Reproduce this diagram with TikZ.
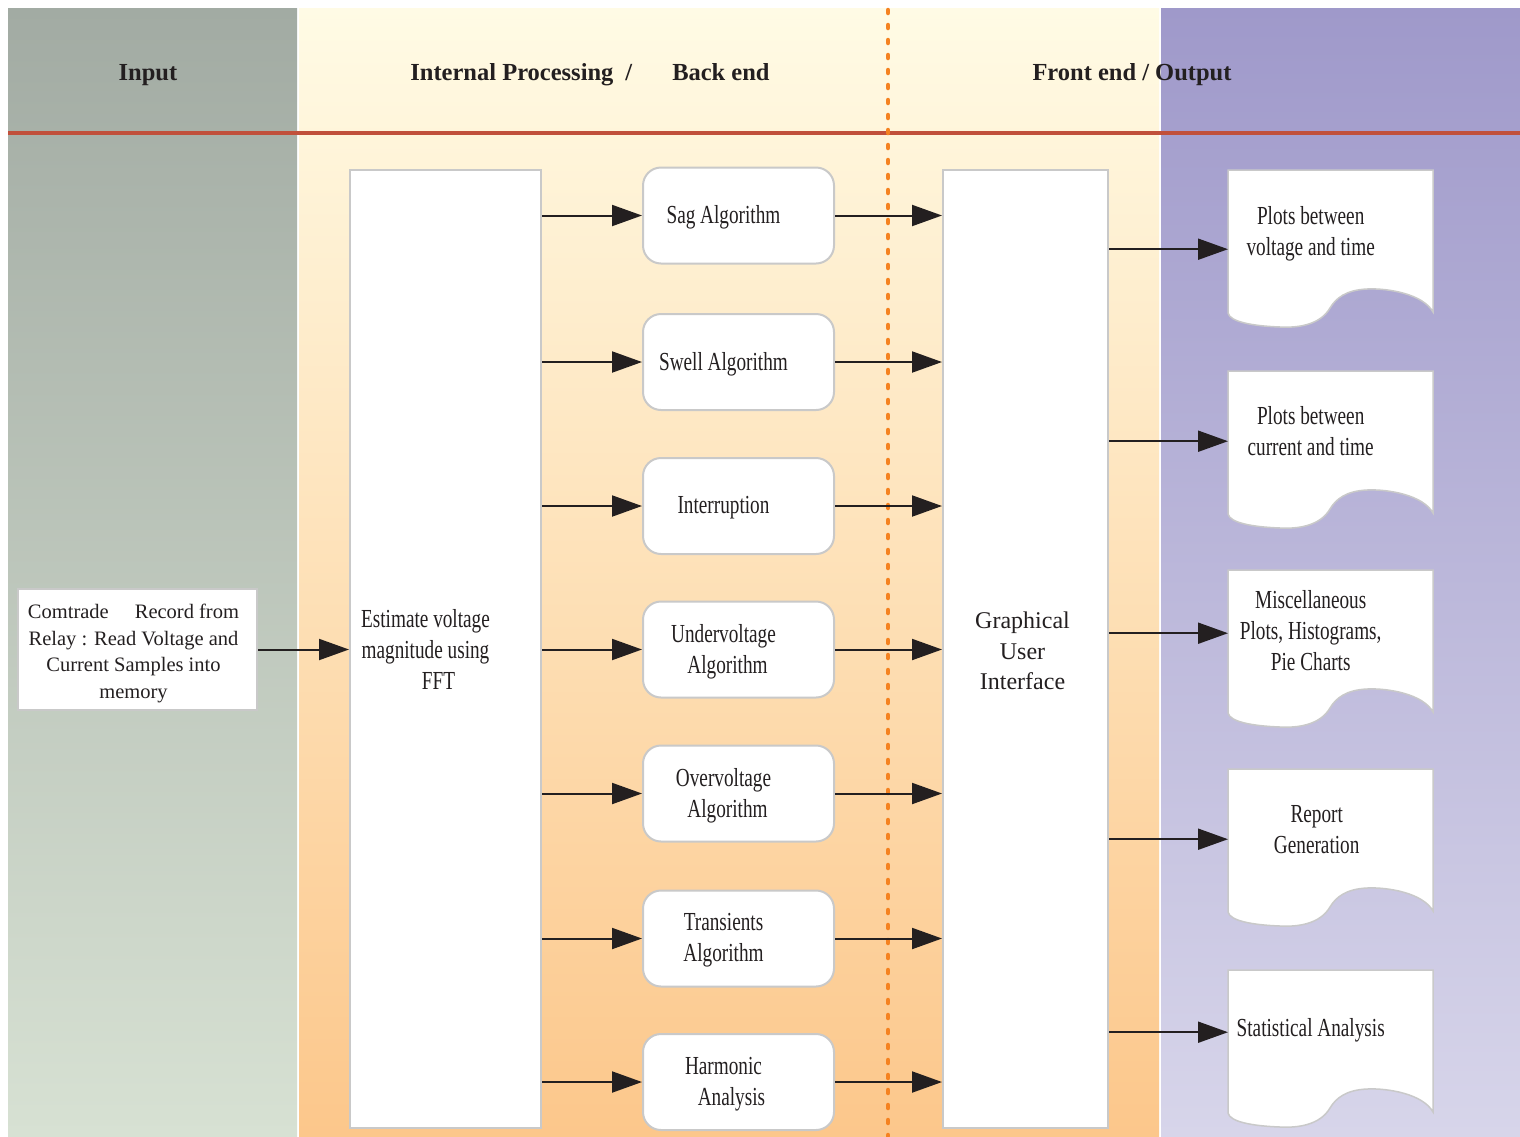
\documentclass[tikz,border=0pt]{standalone}
\usepackage{fontspec}
\setmainfont{Liberation Serif}
\newfontfamily\narrowfont[FakeStretch=0.74]{Liberation Serif}
\usetikzlibrary{arrows.meta}
\definecolor{InputTop}{HTML}{A2ABA3}
\definecolor{InputBot}{HTML}{D7E1D3}
\definecolor{ProcTop}{HTML}{FFFBE5}
\definecolor{ProcBot}{HTML}{FCC78B}
\definecolor{OutTop}{HTML}{9F99CA}
\definecolor{OutBot}{HTML}{D7D5EA}
\definecolor{RuleRed}{HTML}{C1503B}
\definecolor{DotOrange}{HTML}{F58220}
\definecolor{BoxGray}{HTML}{C9C9C9}
\definecolor{InkBlack}{HTML}{231F20}
\pgfdeclarelayer{paper}
\pgfsetlayers{paper,main}
\newcommand{\PageShape}[1]{\path[PageLine, shift={(#1.north west)}] (0,0) -- (205,0) -- (205,142) .. controls (195,124) and (160,118) .. (139,119) .. controls (118,120) and (108,128) .. (102,138) .. controls (92,155) and (70,158) .. (52,157) .. controls (25,156) and (2,152) .. (0,143) -- cycle;}

\begin{document}
\begin{tikzpicture}[x=1pt, y=-1pt]
\tikzstyle{HeadStyle}=[font=\bfseries\fontsize{24.5}{30}\selectfont, text=InkBlack]
\tikzstyle{BoxStyle}=[draw=BoxGray, line width=2pt, fill=white, inner sep=0pt]
\tikzstyle{AlgoStyle}=[BoxStyle, rounded corners=18pt, minimum width=191pt, minimum height=96pt]
\tikzstyle{NarrowText}=[align=center, text=InkBlack, font=\narrowfont\fontsize{26}{31}\selectfont]
\tikzstyle{AlgoText}=[NarrowText, xshift=-15pt, yshift=-2pt]
\tikzstyle{PageStyle}=[minimum width=205pt, minimum height=158pt, inner sep=0pt]
\tikzstyle{PageText}=[NarrowText, xshift=-20pt, yshift=19pt]
\tikzstyle{PageLine}=[draw=BoxGray, line width=1.5pt, fill=white]
\tikzstyle{FlowStyle}=[line width=2pt, draw=InkBlack, -{Triangle[length=30pt, width=21pt]}]
\useasboundingbox (0,0) rectangle (1520,1136);
\begin{pgfonlayer}{paper}
\fill[white] (0,0) rectangle (1520,1136);
\shade[top color=InputTop, bottom color=InputBot] (8,8) rectangle (297,1136);
\shade[top color=ProcTop, bottom color=ProcBot] (299,8) rectangle (1159,1136);
\shade[top color=OutTop, bottom color=OutBot] (1161,8) rectangle (1520,1136);
\draw[RuleRed, line width=3.5pt] (8,133) -- (1520,133);
\draw[DotOrange, line width=4.5pt, line cap=round, dash pattern=on 3pt off 12pt] (888,10) -- (888,1136);
\end{pgfonlayer}
\node[HeadStyle] (h1) at (148,75) {Input};
\node[HeadStyle] (h2) at (590,75) {Internal Processing\hspace{12pt}/\hspace{40pt}Back end};
\node[HeadStyle] (h3) at (1132,75) {Front end / Output};
\node[BoxStyle, minimum width=239pt, minimum height=121pt, label={[align=center, text=InkBlack, font=\fontsize{20.5}{26.5}\selectfont, xshift=-4pt, yshift=-4pt]center:Comtrade\hspace{26pt}Record from\\Relay : Read Voltage and\\Current Samples into\\memory}] (inp) at (137.5,649.5) {};
\node[BoxStyle, minimum width=191pt, minimum height=958pt, label={[NarrowText, xshift=-20pt]center:Estimate voltage\\magnitude using\\\hspace*{26pt}FFT}] (fft) at (445.5,649) {};
\node[AlgoStyle, label={[AlgoText]center:Sag Algorithm}] (a1) at (738.5,215.5) {};
\node[AlgoStyle, label={[AlgoText]center:Swell Algorithm}] (a2) at (738.5,362) {};
\node[AlgoStyle, label={[AlgoText]center:Interruption}] (a3) at (738.5,506) {};
\node[AlgoStyle, label={[AlgoText]center:Undervoltage\\\hspace*{8pt}Algorithm}] (a4) at (738.5,649.5) {};
\node[AlgoStyle, label={[AlgoText]center:Overvoltage\\\hspace*{8pt}Algorithm}] (a5) at (738.5,793.5) {};
\node[AlgoStyle, label={[AlgoText]center:Transients\\Algorithm}] (a6) at (738.5,938.5) {};
\node[AlgoStyle, label={[AlgoText]center:Harmonic\\\hspace*{16pt}Analysis}] (a7) at (738.5,1082) {};
\node[BoxStyle, minimum width=165pt, minimum height=958pt, label={[align=center, text=InkBlack, font=\fontsize{24}{30.5}\selectfont, xshift=-3pt, yshift=-2pt]center:Graphical\\User\\Interface}] (gui) at (1025.5,649) {};
\node[PageStyle, anchor=north west, label={[PageText, yshift=-4pt]center:Plots between\\voltage and time}] (p1) at (1228,170) {};
\node[PageStyle, anchor=north west, label={[PageText]center:Plots between\\current and time}] (p2) at (1228,371) {};
\node[PageStyle, anchor=north west, label={[PageText]center:Miscellaneous\\Plots, Histograms,\\Pie Charts}] (p3) at (1228,570) {};
\node[PageStyle, anchor=north west, label={[PageText, xshift=6pt]center:Report\\Generation}] (p4) at (1228,769) {};
\node[PageStyle, anchor=north west, label={[PageText]center:Statistical Analysis}] (p5) at (1228,970) {};
\begin{pgfonlayer}{paper}
\PageShape{p1}
\PageShape{p2}
\PageShape{p3}
\PageShape{p4}
\PageShape{p5}
\end{pgfonlayer}
\draw[FlowStyle] (inp.east) -- (inp.east -| fft.west);
\draw[FlowStyle] (a1.west -| fft.east) -- (a1.west);
\draw[FlowStyle] (a2.west -| fft.east) -- (a2.west);
\draw[FlowStyle] (a3.west -| fft.east) -- (a3.west);
\draw[FlowStyle] (a4.west -| fft.east) -- (a4.west);
\draw[FlowStyle] (a5.west -| fft.east) -- (a5.west);
\draw[FlowStyle] (a6.west -| fft.east) -- (a6.west);
\draw[FlowStyle] (a7.west -| fft.east) -- (a7.west);
\draw[FlowStyle] (a1.east) -- (a1.east -| gui.west);
\draw[FlowStyle] (a2.east) -- (a2.east -| gui.west);
\draw[FlowStyle] (a3.east) -- (a3.east -| gui.west);
\draw[FlowStyle] (a4.east) -- (a4.east -| gui.west);
\draw[FlowStyle] (a5.east) -- (a5.east -| gui.west);
\draw[FlowStyle] (a6.east) -- (a6.east -| gui.west);
\draw[FlowStyle] (a7.east) -- (a7.east -| gui.west);
\draw[FlowStyle] (p1.west -| gui.east) -- (p1.west);
\draw[FlowStyle] ([yshift=9pt]p2.west -| gui.east) -- ([yshift=9pt]p2.west);
\draw[FlowStyle] ([yshift=16pt]p3.west -| gui.east) -- ([yshift=16pt]p3.west);
\draw[FlowStyle] ([yshift=9pt]p4.west -| gui.east) -- ([yshift=9pt]p4.west);
\draw[FlowStyle] ([yshift=17pt]p5.west -| gui.east) -- ([yshift=17pt]p5.west);
\end{tikzpicture}
\end{document}
